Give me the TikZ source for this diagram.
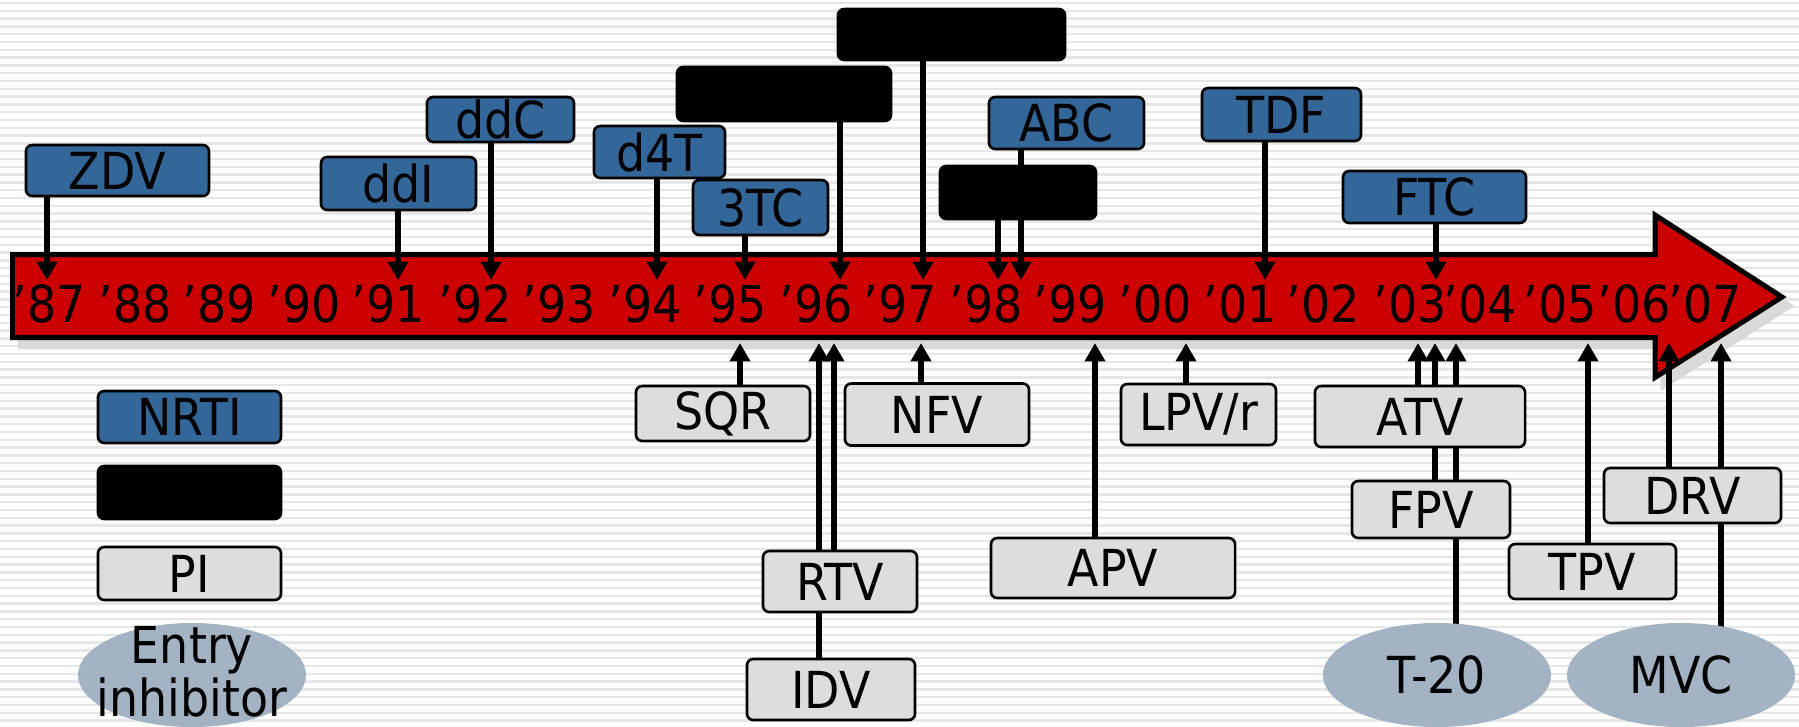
\documentclass[tikz,border=0pt]{standalone}
\usepackage{fontspec}
\setmainfont{DejaVu Sans Condensed}
\usetikzlibrary{arrows.meta,shapes.geometric}

\definecolor{nrtiblue}{HTML}{336699}
\definecolor{pigrey}{HTML}{DDDDDD}
\definecolor{entrygrey}{HTML}{A3B3C3}
\definecolor{barred}{HTML}{CC0000}
\definecolor{shadowgrey}{HTML}{D9D9D9}
\definecolor{stripegrey}{HTML}{E6E6E6}

\pgfdeclarelayer{back}
\pgfdeclarelayer{links}
\pgfsetlayers{back,links,main}

\begin{document}
\begin{tikzpicture}[x=0.01cm, y=-0.01cm,
    txt/.style={font=\fontsize{14.5}{15.2}\selectfont},
    drugbox/.style={txt, rectangle, rounded corners=1.8pt, draw=black, line width=0.75pt, inner sep=0pt},
    nrti/.style={drugbox, fill=nrtiblue},
    nnrti/.style={drugbox, fill=black},
    pibox/.style={drugbox, fill=pigrey},
    entry/.style={txt, ellipse, fill=entrygrey, inner sep=0pt, minimum width=2.28cm, minimum height=1.04cm},
    drug/.style={-{Triangle[length=5.2pt,width=5.6pt]}, line width=1.5pt},
    year/.style={txt, inner sep=0pt, anchor=base}]
    \useasboundingbox (0,0) rectangle (1799,726);

    \begin{pgfonlayer}{back}
        \fill[white] (0,0) rectangle (1799,726);
        \foreach \s in {0,...,93}
            \draw[stripegrey, line width=0.65pt] (0,3+7.8*\s) -- (1799,3+7.8*\s);
        \path[fill=shadowgrey, draw=shadowgrey, line width=1.42pt, shift={(8,9)}]
            (12.5,254.5) -- (1655,254.5) -- (1655,215) -- (1782,297) -- (1655,377.5) -- (1655,337.5) -- (12.5,337.5) -- cycle;
        \draw[fill=barred, line width=1.42pt]
            (12.5,254.5) -- (1655,254.5) -- (1655,215) -- (1782,297) -- (1655,377.5) -- (1655,337.5) -- (12.5,337.5) -- cycle;
    \end{pgfonlayer}

    \foreach \yr/\xx in {87/49, 88/135, 89/219, 90/304, 91/388, 92/475, 93/559, 94/645,
        95/730, 96/816, 97/900, 98/986, 99/1070, 00/1155, 01/1240, 02/1323, 03/1410,
        04/1480, 05/1560, 06/1634, 07/1705}
        \node[year] (y\yr) at (\xx,322) {’\yr};

    \node[nrti, minimum width=1.83cm, minimum height=0.51cm] (ZDV) at (117.5,170.5) {ZDV};
    \node[nrti, minimum width=1.55cm, minimum height=0.53cm] (ddI) at (398.5,183.5) {ddI};
    \node[nrti, minimum width=1.47cm, minimum height=0.45cm] (ddC) at (500.5,119.5) {ddC};
    \node[nrti, minimum width=1.31cm, minimum height=0.52cm] (d4T) at (659.5,152) {d4T};
    \node[nrti, minimum width=1.35cm, minimum height=0.55cm] (3TC) at (760.5,207.5) {3TC};
    \node[nnrti, minimum width=2.14cm, minimum height=0.54cm] (nnrtiA) at (784,94) {};
    \node[nnrti, minimum width=2.27cm, minimum height=0.51cm] (nnrtiB) at (951.5,34.5) {};
    \node[nrti, minimum width=1.55cm, minimum height=0.52cm] (ABC) at (1066.5,123) {ABC};
    \node[nnrti, minimum width=1.56cm, minimum height=0.53cm] (nnrtiC) at (1018,192.5) {};
    \node[nrti, minimum width=1.59cm, minimum height=0.53cm] (TDF) at (1281.5,114.5) {TDF};
    \node[nrti, minimum width=1.83cm, minimum height=0.52cm] (FTC) at (1434.5,197) {FTC};

    \node[pibox, minimum width=1.74cm, minimum height=0.55cm] (SQR) at (723,413.5) {SQR};
    \node[pibox, minimum width=1.84cm, minimum height=0.62cm] (NFV) at (937,414.5) {NFV};
    \node[pibox, minimum width=1.55cm, minimum height=0.61cm] (LPVr) at (1198.5,414.5) {LPV/r};
    \node[pibox, minimum width=1.54cm, minimum height=0.61cm] (RTV) at (840,581.5) {RTV};
    \node[pibox, minimum width=1.68cm, minimum height=0.61cm] (IDV) at (831,689.5) {IDV};
    \node[pibox, minimum width=2.44cm, minimum height=0.60cm] (APV) at (1113,568) {APV};
    \node[pibox, minimum width=2.10cm, minimum height=0.61cm] (ATV) at (1420,416.5) {ATV};
    \node[pibox, minimum width=1.58cm, minimum height=0.57cm] (FPV) at (1431,509.5) {FPV};
    \node[pibox, minimum width=1.67cm, minimum height=0.55cm] (TPV) at (1592.5,571.5) {TPV};
    \node[pibox, minimum width=1.77cm, minimum height=0.55cm] (DRV) at (1692.5,495.5) {DRV};
    \node[entry] (T20) at (1437,675) {T-20};
    \node[entry] (MVC) at (1681,675) {MVC};

    \node[nrti, minimum width=1.83cm, minimum height=0.52cm] (legNRTI) at (189.5,417) {NRTI};
    \node[nnrti, minimum width=1.83cm, minimum height=0.53cm] (legNNRTI) at (189.5,492.5) {};
    \node[pibox, minimum width=1.83cm, minimum height=0.53cm] (legPI) at (189.5,573.5) {PI};
    \node[entry, label={[txt, align=center, yshift=0.03cm]center:Entry\\inhibitor}] (legEntry) at (192,675) {};

    \begin{pgfonlayer}{links}
        \foreach \n/\xx in {ZDV/47, ddI/398, ddC/491, d4T/657, 3TC/745, nnrtiA/840,
            nnrtiB/923, nnrtiC/998, ABC/1021, TDF/1265, FTC/1436} {
            \coordinate (t\n) at (\xx,280);
            \draw[drug] (\n.south -| t\n) -- (t\n);
        }
        \foreach \n/\xx in {SQR/740, IDV/819, RTV/834, NFV/921, APV/1095, LPVr/1186,
            ATV/1418, FPV/1435, TPV/1588, DRV/1669} {
            \coordinate (t\n) at (\xx,343);
            \draw[drug] (\n.north -| t\n) -- (t\n);
        }
        \foreach \n/\xx in {T20/1456, MVC/1721} {
            \coordinate (t\n) at (\xx,343);
            \draw[drug] (\n.center -| t\n) -- (t\n);
        }
    \end{pgfonlayer}
\end{tikzpicture}
\end{document}
